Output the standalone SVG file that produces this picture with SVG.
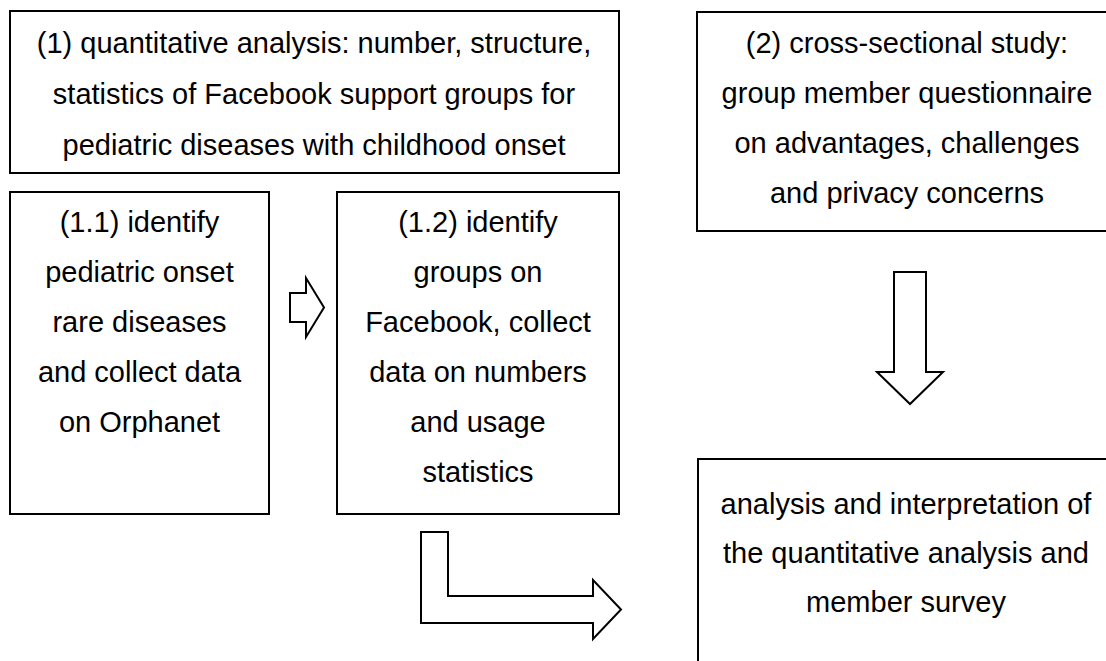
<svg xmlns="http://www.w3.org/2000/svg" width="1106" height="661" viewBox="0 0 1106 661">
<style>
.box{fill:#fff;stroke:#000;stroke-width:2}
.arr{fill:#fff;stroke:#000;stroke-width:2;stroke-linejoin:miter}
text{font-family:"Liberation Sans",Arial,sans-serif;font-size:29px;fill:#000;text-anchor:middle}
</style>
<rect width="1106" height="661" fill="#fff"/>
<g id="node-quant">
<rect class="box" x="10" y="11" width="609" height="162"/>
<text x="314" y="53">(1) quantitative analysis: number, structure,</text>
<text x="314" y="104">statistics of Facebook support groups for</text>
<text x="314" y="155">pediatric diseases with childhood onset</text>
</g>
<g id="node-1-1">
<rect class="box" x="10" y="192" width="259" height="322"/>
<text x="139.5" y="232">(1.1) identify</text>
<text x="139.5" y="282">pediatric onset</text>
<text x="139.5" y="332">rare diseases</text>
<text x="139.5" y="382">and collect data</text>
<text x="139.5" y="432">on Orphanet</text>
</g>
<g id="node-1-2">
<rect class="box" x="337" y="192" width="282" height="322"/>
<text x="478" y="232">(1.2) identify</text>
<text x="478" y="282">groups on</text>
<text x="478" y="332">Facebook, collect</text>
<text x="478" y="382">data on numbers</text>
<text x="478" y="432">and usage</text>
<text x="478" y="482">statistics</text>
</g>
<g id="node-cross">
<rect class="box" x="697" y="12" width="420" height="219"/>
<text x="907" y="53">(2) cross-sectional study:</text>
<text x="907" y="103">group member questionnaire</text>
<text x="907" y="153">on advantages, challenges</text>
<text x="907" y="203">and privacy concerns</text>
</g>
<g id="node-analysis">
<rect class="box" x="698" y="459" width="420" height="220"/>
<text x="906" y="514">analysis and interpretation of</text>
<text x="906" y="563">the quantitative analysis and</text>
<text x="906" y="612">member survey</text>
</g>
<g id="connectors">
<polygon class="arr" points="290,293 306,293 306,278 324,307.5 306,337 306,322 290,322"/>
<polygon class="arr" points="894,272 926,272 926,372 943,372 910,404 877,372 894,372"/>
<polygon class="arr" points="421,532 448,532 448,596 593,596 593,580 621,609.5 593,639 593,623 421,623"/>
</g>
</svg>
